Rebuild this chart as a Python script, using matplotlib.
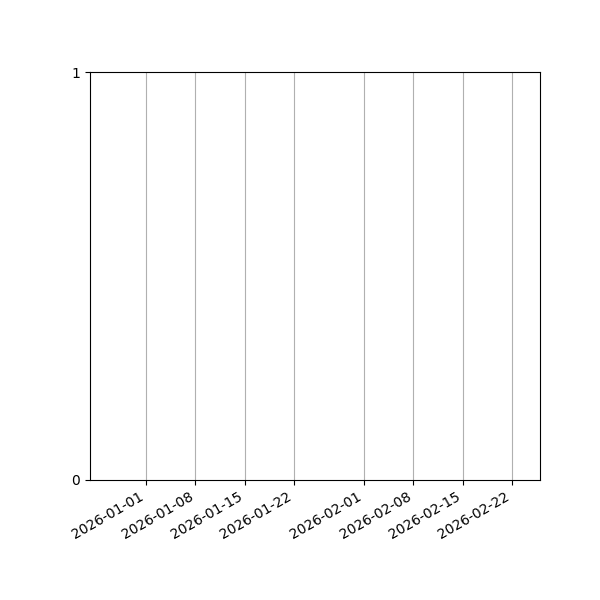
import datetime as dt
import matplotlib
matplotlib.use('Agg')
import matplotlib.pyplot as plt
import matplotlib.dates as mdates

# empty chart: only the date range and y ticks
x_start = dt.datetime(2025, 12, 24)
x_end = dt.datetime(2026, 2, 26)
y_ticks = [0, 1]

fig, ax = plt.subplots(figsize=(6, 6), dpi=100)
ax.set_xlim(x_start, x_end)
ax.set_ylim(0, 1)
ax.set_yticks(y_ticks)
ax.xaxis.set_major_locator(mdates.AutoDateLocator())
ax.xaxis.set_major_formatter(mdates.DateFormatter('%Y-%m-%d'))
ax.grid(True, axis='x')
fig.autofmt_xdate()
fig.subplots_adjust(left=0.15, right=0.9, top=0.88, bottom=0.2)

fig.savefig('out.png')
